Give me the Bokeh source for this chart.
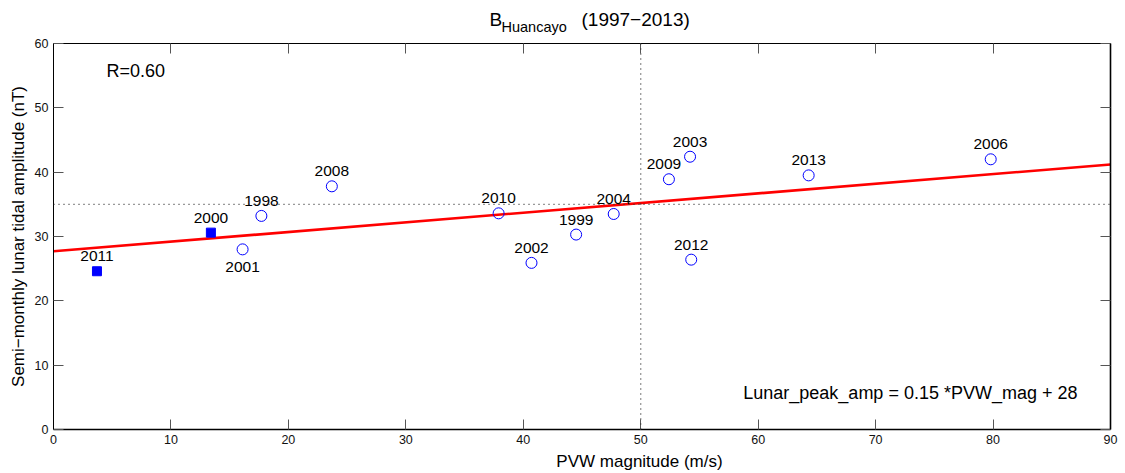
import numpy as np
from bokeh.plotting import figure
from bokeh.layouts import column
from bokeh.models import (ColumnDataSource, Span, Label, LinearAxis, Range1d,
                          SingleIntervalTicker, CustomJSTickFormatter)
from bokeh.core.properties import value
from bokeh.embed import file_html
from bokeh.resources import INLINE

# Semi-monthly lunar tidal amplitude at Huancayo vs. PVW magnitude
years = ["2011", "2000", "2001", "1998", "2008", "2010", "2002", "1999",
         "2004", "2012", "2009", "2003", "2013", "2006"]
pvw_mag = [3.7, 13.4, 16.1, 17.7, 23.7, 37.9, 40.7, 44.5,
           47.7, 54.3, 52.4, 54.2, 64.3, 79.8]
lunar_amp = [24.6, 30.6, 28.0, 33.2, 37.8, 33.6, 25.9, 30.3,
             33.5, 26.4, 38.9, 42.4, 39.5, 42.0]
marker_kind = ["square", "square", "circle", "circle", "circle", "circle", "circle", "circle",
               "circle", "circle", "circle", "circle", "circle", "circle"]

# Linear fit and reference levels
fit_slope = 0.150
fit_intercept = 27.7
r_value = 0.60
ref_pvw = 50
ref_amp = 35

station = "Huancayo"
period = "(1997\u22122013)"
x_title = "PVW magnitude (m/s)"
y_title = "Semi\u2212monthly lunar tidal amplitude (nT)"

FONT = "Liberation Sans"
BLUE = "#0000ff"
W, H = 1125, 473
BORDER_L, BORDER_R = 53, 15
TITLE_H = 36
XLAB_H = 22


def strip(height):
    """Axis-less strip; its frame lines up with the main frame in the column,
    so the x range is expressed in page pixels across that frame."""
    s = figure(width=W, height=height, output_backend="svg", toolbar_location=None,
               title=None, x_range=Range1d(BORDER_L, W - BORDER_R),
               y_range=Range1d(0, height), x_axis_type=None, y_axis_type=None,
               min_border=0, min_border_left=BORDER_L, min_border_right=BORDER_R)
    s.outline_line_color = None
    s.grid.visible = False
    return s


def put(fig, x, y_top, txt, size, align="left"):
    """Place text with its vertical middle y_top pixels below the strip top."""
    fig.text(x=[x], y=[fig.y_range.end - y_top], text=[txt], text_font=value(FONT),
             text_font_size=size, text_color="black", text_align=align,
             text_baseline="middle")


# ---- title: B with station subscript ----
title_fig = strip(TITLE_H)
put(title_fig, 489, 18.9, "B", "19px")
put(title_fig, 501, 26.9, station, "14.5px")
put(title_fig, 581, 18.9, period, "19px")

# ---- main scatter panel ----
p = figure(width=W, height=H - TITLE_H - XLAB_H, output_backend="svg",
           toolbar_location=None, title=None,
           x_range=Range1d(0, 90), y_range=Range1d(0, 60),
           min_border_left=BORDER_L, min_border_right=BORDER_R,
           min_border_top=43 - TITLE_H, min_border_bottom=22)
p.outline_line_color = None
p.grid.visible = False


def style_axis(ax, step, labelled=True, line_width=1.0):
    ax.ticker = SingleIntervalTicker(interval=step, num_minor_ticks=0)
    ax.major_tick_in = 10
    ax.major_tick_out = 0
    ax.minor_tick_in = 0
    ax.minor_tick_out = 0
    ax.major_tick_line_color = "#555555"
    ax.axis_line_color = "black"
    ax.axis_line_width = line_width
    ax.major_label_text_font = FONT
    ax.major_label_text_font_size = "12.5px"
    ax.major_label_text_color = "#111111"
    ax.major_label_standoff = 5
    if not labelled:
        ax.formatter = CustomJSTickFormatter(code="return ''")
        ax.major_label_standoff = 0
        ax.major_label_text_font_size = "0px"


style_axis(p.xaxis[0], 10, line_width=1.6)
style_axis(p.yaxis[0], 10, line_width=1.0)
p.yaxis[0].axis_label = y_title
p.yaxis[0].axis_label_text_font = FONT
p.yaxis[0].axis_label_text_font_size = "17px"
p.yaxis[0].axis_label_text_font_style = "normal"
p.yaxis[0].axis_label_text_color = "black"
p.yaxis[0].axis_label_standoff = 4

top_ax = LinearAxis()
right_ax = LinearAxis()
style_axis(top_ax, 10, labelled=False, line_width=1.0)
style_axis(right_ax, 10, labelled=False, line_width=1.6)
p.add_layout(top_ax, "above")
p.add_layout(right_ax, "right")

# dotted reference lines
for span in (Span(location=ref_amp, dimension="width"),
             Span(location=ref_pvw, dimension="height")):
    span.line_color = "#333333"
    span.line_width = 1.3
    span.line_dash = "1 4"
    p.add_layout(span)

# regression line
fx = np.array([p.x_range.start, p.x_range.end])
p.line(fx, fit_slope * fx + fit_intercept, line_color="#ff0000", line_width=2.6)

# data points with year labels
x_off = {"2009": -5}
y_off = {"2001": 18}
src = ColumnDataSource(dict(
    x=pvw_mag, y=lunar_amp, year=years, marker=marker_kind,
    fill=[BLUE if m == "square" else None for m in marker_kind],
    size=[9 if m == "square" else 11 for m in marker_kind],
    xo=[x_off.get(yr, 0) for yr in years],
    yo=[y_off.get(yr, -15) for yr in years],
))
p.scatter("x", "y", source=src, marker="marker", size="size",
          fill_color="fill", line_color=BLUE, line_width=1)
p.text("x", "y", text="year", source=src, x_offset="xo", y_offset="yo",
       text_font=value(FONT), text_font_size="15.5px", text_color="black",
       text_align="center", text_baseline="middle")

# correlation and fit equation
p.add_layout(Label(x=53, y=349, x_units="screen", y_units="screen",
                   text=f"R={r_value:.2f}", text_font=FONT,
                   text_font_size="18px", text_color="black"))
p.add_layout(Label(x=1024, y=27, x_units="screen", y_units="screen",
                   text=f"Lunar_peak_amp = {fit_slope:.2f} *PVW_mag + {fit_intercept:.0f}",
                   text_font=FONT, text_font_size="18px", text_color="black",
                   text_align="right"))

# ---- x-axis title ----
xlab_fig = strip(XLAB_H)
put(xlab_fig, 639, 10, x_title, "17px", align="center")

layout = column(title_fig, p, xlab_fig, spacing=0)
open("out.html", "w").write(file_html(layout, INLINE))
